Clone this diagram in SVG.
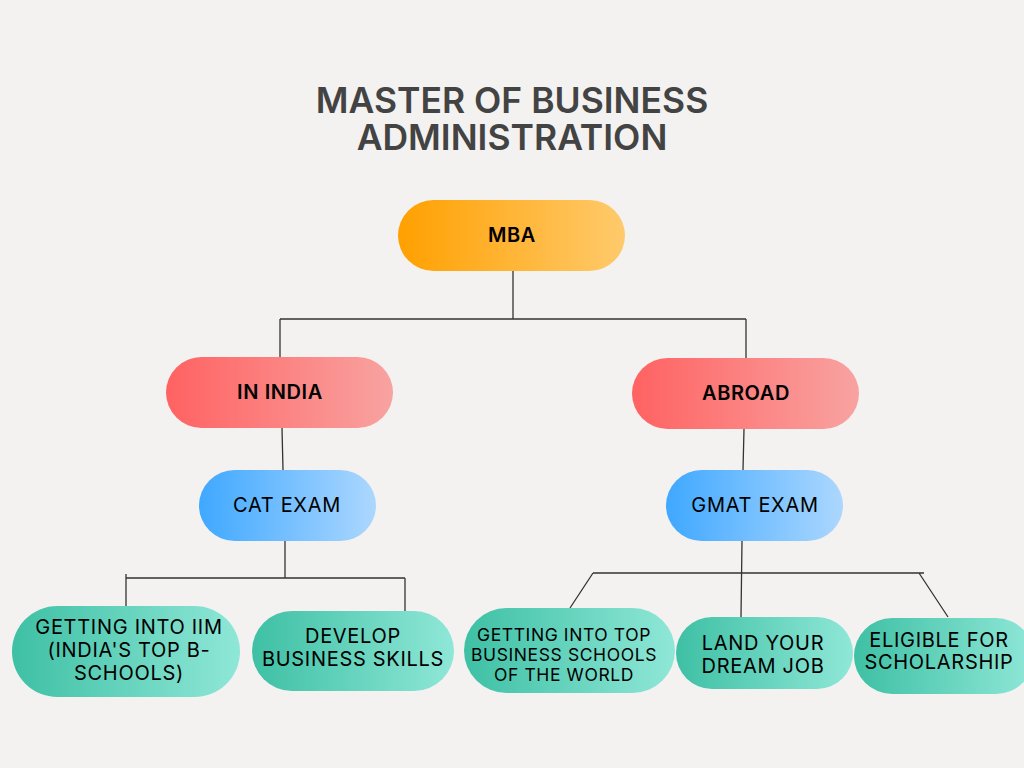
<svg xmlns="http://www.w3.org/2000/svg" width="1024" height="768" viewBox="0 0 1024 768">
<defs>
<linearGradient id="gOrange" x1="0" y1="0" x2="1" y2="0"><stop offset="0" stop-color="#ffa000"/><stop offset="1" stop-color="#ffca6c"/></linearGradient>
<linearGradient id="gRed" x1="0" y1="0" x2="1" y2="0"><stop offset="0" stop-color="#ff6262"/><stop offset="1" stop-color="#f8a3a1"/></linearGradient>
<linearGradient id="gBlue" x1="0" y1="0" x2="1" y2="0"><stop offset="0" stop-color="#3fa8ff"/><stop offset="1" stop-color="#acd7fe"/></linearGradient>
<linearGradient id="gTeal" x1="0" y1="0" x2="1" y2="0"><stop offset="0" stop-color="#3ec0a4"/><stop offset="1" stop-color="#8fe7d7"/></linearGradient>
</defs>
<style>
.t{font-family:Inter,"Liberation Sans",sans-serif;fill:#000;text-anchor:middle}
.b{font-weight:600;font-size:20px;letter-spacing:0.6px}
.n{font-size:20px;letter-spacing:0.7px}
.s{font-size:17.5px;letter-spacing:0.6px}
.title{font-family:Inter,"Liberation Sans",sans-serif;font-weight:600;font-size:35.5px;fill:#434343;text-anchor:middle}
.c{stroke:#333;stroke-width:1.3;fill:none}
</style>
<rect width="1024" height="768" fill="#f3f2f0"/>
<text class="title" x="512" y="113">MASTER OF BUSINESS</text>
<text class="title" x="512" y="150">ADMINISTRATION</text>
<g id="connectors">
<path class="c" d="M513 271V319M280 319H746M280 319V357M746 319V358"/>
<path class="c" d="M282 428L283 470M744 429L743 470"/>
<path class="c" d="M285 541V578M126 578H405M126 574V606M405 578V611"/>
<path class="c" d="M742 541L741 617M593 573H924M593 573L570 608M919 573L948 617"/>
</g>
<g id="mba"><rect x="398" y="200" width="227" height="71" rx="35.5" fill="url(#gOrange)"/><text class="t b" x="512" y="242">MBA</text></g>
<g id="india"><rect x="166" y="357" width="227" height="71" rx="35.5" fill="url(#gRed)"/><text class="t b" x="280" y="399">IN INDIA</text></g>
<g id="abroad"><rect x="632" y="358" width="227" height="71" rx="35.5" fill="url(#gRed)"/><text class="t b" x="746" y="400">ABROAD</text></g>
<g id="cat"><rect x="199" y="470" width="177" height="71" rx="35.5" fill="url(#gBlue)"/><text class="t n" x="287" y="512">CAT EXAM</text></g>
<g id="gmat"><rect x="666" y="470" width="177" height="71" rx="35.5" fill="url(#gBlue)"/><text class="t n" x="755" y="512">GMAT EXAM</text></g>
<g id="iim"><rect x="12" y="606" width="228" height="91" rx="45.5" fill="url(#gTeal)"/><text class="t n" x="129" y="634">GETTING INTO IIM</text><text class="t n" x="129" y="657">(INDIA'S TOP B-</text><text class="t n" x="129" y="680">SCHOOLS)</text></g>
<g id="skills"><rect x="252" y="611" width="202" height="80" rx="40" fill="url(#gTeal)"/><text class="t n" x="353" y="643">DEVELOP</text><text class="t n" x="353" y="666">BUSINESS SKILLS</text></g>
<g id="topschools"><rect x="464" y="608" width="211" height="85" rx="42.5" fill="url(#gTeal)"/><text class="t s" x="564" y="641">GETTING INTO TOP</text><text class="t s" x="564" y="661">BUSINESS SCHOOLS</text><text class="t s" x="564" y="681">OF THE WORLD</text></g>
<g id="dreamjob"><rect x="676" y="617" width="177" height="72" rx="36" fill="url(#gTeal)"/><text class="t n" x="763" y="650">LAND YOUR</text><text class="t n" x="763" y="673">DREAM JOB</text></g>
<g id="scholarship"><rect x="854" y="618" width="180" height="76" rx="38" fill="url(#gTeal)"/><text class="t n" x="939" y="647">ELIGIBLE FOR</text><text class="t n" x="939" y="669">SCHOLARSHIP</text></g>
</svg>
